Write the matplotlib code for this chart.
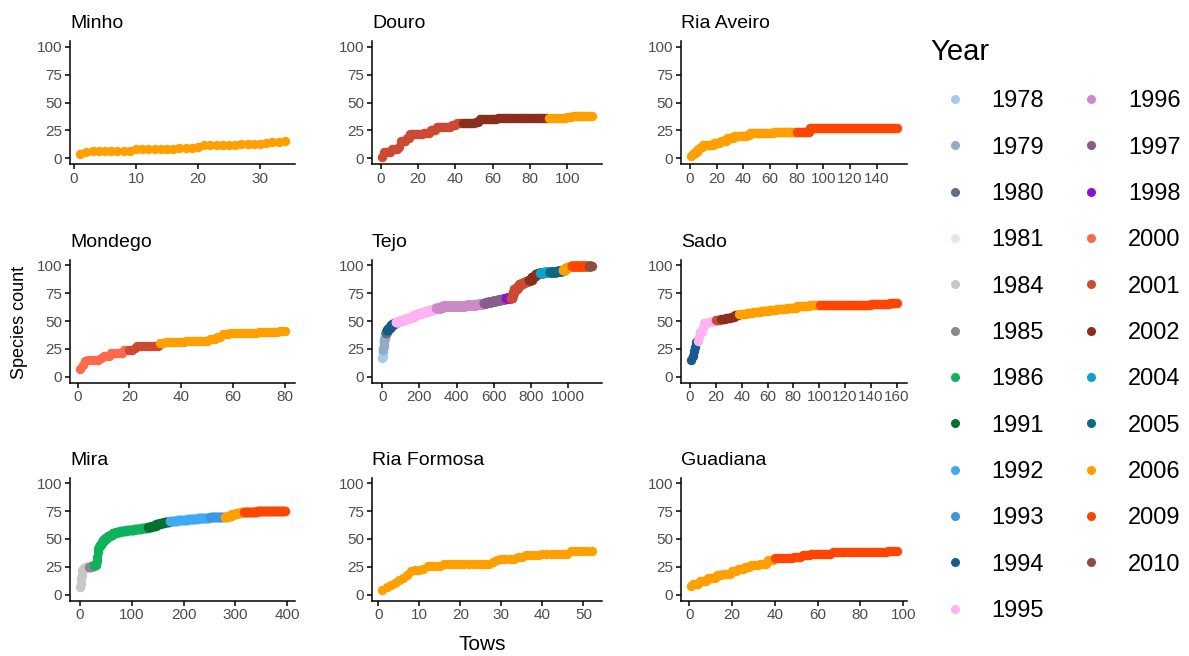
import numpy as np
import matplotlib
matplotlib.use('Agg')
import matplotlib.pyplot as plt
from matplotlib.lines import Line2D

plt.rcParams['font.family'] = ['Liberation Sans', 'DejaVu Sans']

# year -> colour (legend order)
years       = [1978, 1979, 1980, 1981, 1984, 1985, 1986, 1991, 1992, 1993, 1994, 1995,
               1996, 1997, 1998, 2000, 2001, 2002, 2004, 2005, 2006, 2009, 2010]
year_colors = ['#a9c9ea', '#93abc9', '#5e6e7e', '#ede3e3', '#c8c6c6', '#888888',
               '#0db25a', '#03702f', '#3eaaf2', '#3a97e0', '#1a5a8a', '#ffb3f2',
               '#c98ac6', '#8a5c88', '#8b0fd0', '#ff6b4a', '#cc4a33', '#8a2f1e',
               '#0ea2c9', '#0e6784', '#ffa000', '#ff4600', '#8c4f3f']

# cumulative species count per tow, stored as (count, number of tows at that count)
minho_count     = [4, 6, 7, 8, 9, 10, 12, 13, 14, 15, 16]
minho_runs      = [1, 1, 7, 7, 3, 1, 6, 4, 1, 2, 1]
minho_years     = [2006]
minho_year_tows = [34]

douro_count     = [1, 6, 8, 10, 16, 18, 22, 23, 25, 28, 30, 32, 33, 35, 36, 37, 38]
douro_runs      = [1, 4, 4, 1, 3, 2, 7, 4, 3, 8, 3, 10, 2, 10, 37, 3, 11]
douro_years     = [2001, 2002, 2006]
douro_year_tows = [43, 46, 24]

aveiro_count     = [2, 4, 6, 8, 10, 12, 14, 16, 18, 20, 21, 23, 24, 27]
aveiro_runs      = [1, 2, 2, 2, 2, 8, 5, 5, 5, 10, 2, 18, 27, 66]
aveiro_years     = [2006, 2009]
aveiro_year_tows = [79, 76]

mondego_count     = [7, 11, 14, 15, 17, 19, 21, 24, 26, 28, 30, 31, 32, 34, 36, 38, 39, 40, 41]
mondego_runs      = [1, 1, 1, 5, 1, 3, 5, 4, 1, 9, 2, 8, 9, 3, 2, 3, 11, 8, 3]
mondego_years     = [2000, 2001, 2006]
mondego_year_tows = [19, 12, 49]

tejo_count = [17, 19, 21, 22,
              24, 26, 28, 30, 32, 33, 34, 35, 36, 37, 38,
              39, 40,
              42, 43, 44, 45, 46, 47, 48,
              49, 50, 51, 52, 53, 54, 55, 56, 57, 58, 59, 60, 61, 62,
              62, 63, 64, 65,
              66, 67, 68, 69, 70,
              71,
              71, 73, 75, 77, 79, 80, 81, 83, 84, 85, 86,
              87, 89, 90, 92, 93,
              93, 94,
              94, 95,
              96, 97, 98, 99,
              99,
              99]
tejo_runs  = [1, 1, 1, 1,
              1, 1, 1, 1, 2, 1, 1, 2, 1, 1, 1,
              3, 4,
              5, 5, 6, 6, 8, 9, 10,
              14, 18, 12, 20, 15, 17, 16, 15, 20, 16, 19, 17, 10, 8,
              30, 130, 60, 35,
              20, 25, 25, 25, 25,
              25,
              10, 3, 4, 3, 15, 8, 5, 15, 10, 12, 15,
              15, 10, 10, 15, 10,
              20, 30,
              40, 32,
              12, 12, 12, 12,
              92,
              15]
tejo_years     = [1978, 1979, 1980, 1994, 1995, 1996, 1997, 1998, 2001, 2002, 2004,
                  2005, 2006, 2009, 2010]
tejo_year_tows = [4, 13, 7, 49, 217, 255, 120, 25, 100, 60, 50, 72, 48, 92, 15]

sado_count     = [15, 19, 23, 27, 31, 32, 36, 40, 44, 48, 49, 50, 51, 52, 53, 54, 55,
                  56, 57, 58, 59, 60, 61, 62, 63, 64, 64, 65, 66]
sado_runs      = [1, 1, 1, 1, 1, 1, 1, 2, 1, 3, 3, 3, 4, 4, 4, 3, 3,
                  6, 5, 6, 6, 6, 8, 8, 10, 8, 39, 15, 6]
sado_years     = [1994, 1995, 2001, 2002, 2006, 2009]
sado_year_tows = [5, 14, 4, 14, 63, 60]

mira_count     = [7, 10, 14, 18, 21, 23, 24, 25, 25, 26,
                  27, 28, 30, 34, 38, 41, 43, 45, 47, 49, 51, 53, 54, 55, 56, 57, 58, 59, 60,
                  61, 62, 63, 64, 65, 66, 67, 68, 69, 70, 70, 71, 72, 73, 74, 74, 75]
mira_runs      = [1, 1, 1, 1, 1, 2, 4, 6, 4, 6,
                  4, 1, 1, 1, 1, 1, 2, 3, 3, 4, 5, 5, 5, 6, 8, 12, 15, 14, 12,
                  8, 8, 8, 8, 10, 15, 20, 20, 23, 28, 6, 8, 10, 8, 6, 25, 54]
mira_years     = [1984, 1985, 1986, 1991, 1992, 1993, 2006, 2009]
mira_year_tows = [17, 10, 103, 42, 78, 28, 38, 79]

formosa_count     = [4, 7, 9, 11, 13, 15, 18, 21, 22, 23, 26, 28, 29, 31, 32, 34, 36, 37, 39]
formosa_runs      = [1, 1, 1, 1, 1, 1, 1, 1, 2, 1, 4, 12, 1, 1, 4, 2, 4, 7, 6]
formosa_years     = [2006]
formosa_year_tows = [52]

guadiana_count     = [8, 10, 12, 15, 18, 19, 21, 23, 25, 27, 28, 31, 33, 34, 36, 37, 38, 39]
guadiana_runs      = [1, 3, 4, 4, 3, 4, 3, 3, 3, 4, 4, 3, 9, 4, 4, 10, 26, 5]
guadiana_years     = [2006, 2009]
guadiana_year_tows = [39, 58]

panel_names = ['Minho', 'Douro', 'Ria Aveiro', 'Mondego', 'Tejo', 'Sado',
               'Mira', 'Ria Formosa', 'Guadiana']
x_tick_step = [10, 20, 20, 20, 200, 20, 100, 10, 20]
x_tick_max  = [30, 100, 140, 80, 1000, 160, 400, 50, 100]


def expand(count, runs, yrs, year_tows):
    y = np.repeat(count, runs)
    yr = np.repeat(yrs, year_tows)
    x = np.arange(1, len(y) + 1)
    return x, y, yr


panels = [
    (minho_count, minho_runs, minho_years, minho_year_tows),
    (douro_count, douro_runs, douro_years, douro_year_tows),
    (aveiro_count, aveiro_runs, aveiro_years, aveiro_year_tows),
    (mondego_count, mondego_runs, mondego_years, mondego_year_tows),
    (tejo_count, tejo_runs, tejo_years, tejo_year_tows),
    (sado_count, sado_runs, sado_years, sado_year_tows),
    (mira_count, mira_runs, mira_years, mira_year_tows),
    (formosa_count, formosa_runs, formosa_years, formosa_year_tows),
    (guadiana_count, guadiana_runs, guadiana_years, guadiana_year_tows),
]

color_of = dict(zip(years, year_colors))

W, H = 1189, 656
lefts  = [70, 372, 681]
widths = [225, 230, 226]
tops   = [41, 259.5, 477.5]
ax_h   = 123

fig = plt.figure(figsize=(W / 100, H / 100), dpi=100)

for i, (count, runs, yrs, ytows) in enumerate(panels):
    r, c = divmod(i, 3)
    ax = fig.add_axes([lefts[c] / W, 1 - (tops[r] + ax_h) / H, widths[c] / W, ax_h / H])
    x, y, yr = expand(count, runs, yrs, ytows)
    for year in yrs:
        m = yr == year
        ax.scatter(x[m], y[m], s=46, color=color_of[year], linewidths=0, zorder=3)

    ax.margins(x=0.05)
    ax.set_ylim(-5, 105)
    ax.set_yticks([0, 25, 50, 75, 100])
    ax.set_xticks(np.arange(0, x_tick_max[i] + 1, x_tick_step[i]))

    for side in ['top', 'right']:
        ax.spines[side].set_visible(False)
    for side in ['left', 'bottom']:
        ax.spines[side].set_linewidth(1.1)
    ax.tick_params(length=3.5, width=1.1, color='black', labelcolor='#4d4d4d',
                   labelsize=11, pad=2)
    ax.set_title(panel_names[i], loc='left', fontsize=14, pad=9)

fig.text(20 / W, 1 - 322 / H, 'Species count', rotation=90, ha='center', va='center',
         fontsize=13)
fig.text(482 / W, 1 - 645 / H, 'Tows', ha='center', va='center', fontsize=15)

handles = [Line2D([], [], marker='o', linestyle='', markersize=6.5, markeredgewidth=0,
                  markerfacecolor=col, label=str(yy))
           for yy, col in zip(years, year_colors)]
fig.legend(handles=handles, ncol=2, loc='upper left', bbox_to_anchor=(930 / W, 1 - 38 / H),
           frameon=False, title='Year', title_fontsize=21, fontsize=17, alignment='left',
           borderpad=0, borderaxespad=0, labelspacing=1.03, handlelength=2.1,
           handletextpad=0.5, columnspacing=0.95)

fig.savefig('out.png', dpi=100)
